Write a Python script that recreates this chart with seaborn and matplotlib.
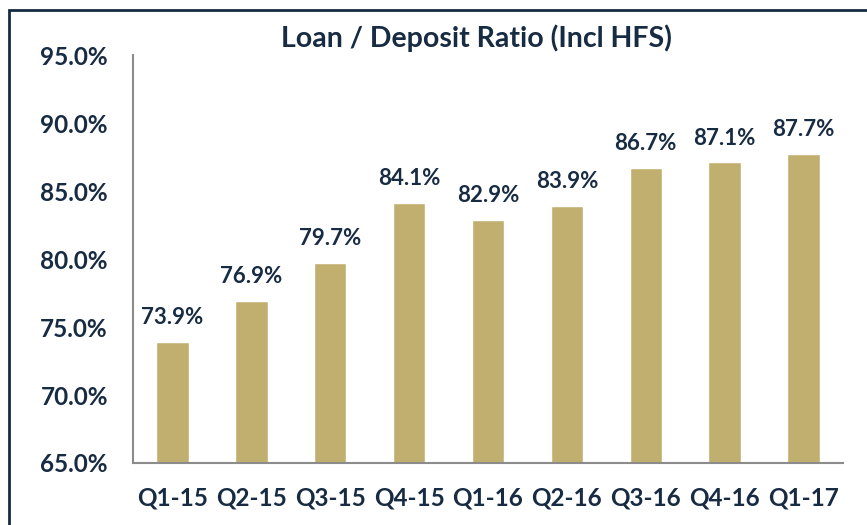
import matplotlib
matplotlib.use("Agg")
import matplotlib.pyplot as plt
import matplotlib.patches as patches
from matplotlib.ticker import FuncFormatter
import pandas as pd
import seaborn as sns

# data
quarters = ["Q1-15", "Q2-15", "Q3-15", "Q4-15", "Q1-16", "Q2-16", "Q3-16", "Q4-16", "Q1-17"]
ratios = [73.9, 76.9, 79.7, 84.1, 82.9, 83.9, 86.7, 87.1, 87.7]

df = pd.DataFrame({"quarter": quarters, "ratio": ratios})

navy = "#172b42"
gold = "#c1af6f"
grey = "#8c8c8c"

sns.set_style("white")
plt.rcParams["font.family"] = ["Lato", "DejaVu Sans"]

fig = plt.figure(figsize=(8.67, 5.25), dpi=100)
ax = fig.add_axes([0.1534, 0.1181, 0.8189, 0.7771])

sns.barplot(data=df, x="quarter", y="ratio", color=gold, width=0.41,
            saturation=1, ax=ax)

ax.set_ylim(65, 95)
ax.set_yticks([65, 70, 75, 80, 85, 90, 95])
ax.yaxis.set_major_formatter(FuncFormatter(lambda v, p: f"{v:.1f}%"))
ax.set_xlim(-0.5, len(quarters) - 0.5)
ax.set_xlabel("")
ax.set_ylabel("")

# tick marks between categories
ax.set_xticks([i - 0.5 for i in range(len(quarters) + 1)], minor=True)
ax.tick_params(axis="x", which="major", length=0, pad=17)
ax.tick_params(axis="x", which="minor", length=5, width=1.5, color=grey, direction="out")
ax.tick_params(axis="y", length=5, width=1.5, color=grey, direction="out", pad=13)

for lab in ax.get_xticklabels() + ax.get_yticklabels():
    lab.set_fontsize(17.5)
    lab.set_fontweight("bold")
    lab.set_color(navy)

for s in ["top", "right"]:
    ax.spines[s].set_visible(False)
for s in ["left", "bottom"]:
    ax.spines[s].set_color(grey)
    ax.spines[s].set_linewidth(1.5)

ax.bar_label(ax.containers[0], labels=[f"{v:.1f}%" for v in ratios], padding=10,
             fontsize=16, fontweight="bold", color=navy)

fig.text(0.549, 0.928, "Loan / Deposit Ratio (Incl HFS)", ha="center", va="center",
         fontsize=20.5, fontweight="bold", color=navy)

# frame around the chart
fig.patches.append(patches.Rectangle((0.0104, -0.1), 1.2, 1.081, transform=fig.transFigure,
                                     fill=False, edgecolor=navy, linewidth=2, clip_on=False))

plt.savefig("out.png", dpi=100)
